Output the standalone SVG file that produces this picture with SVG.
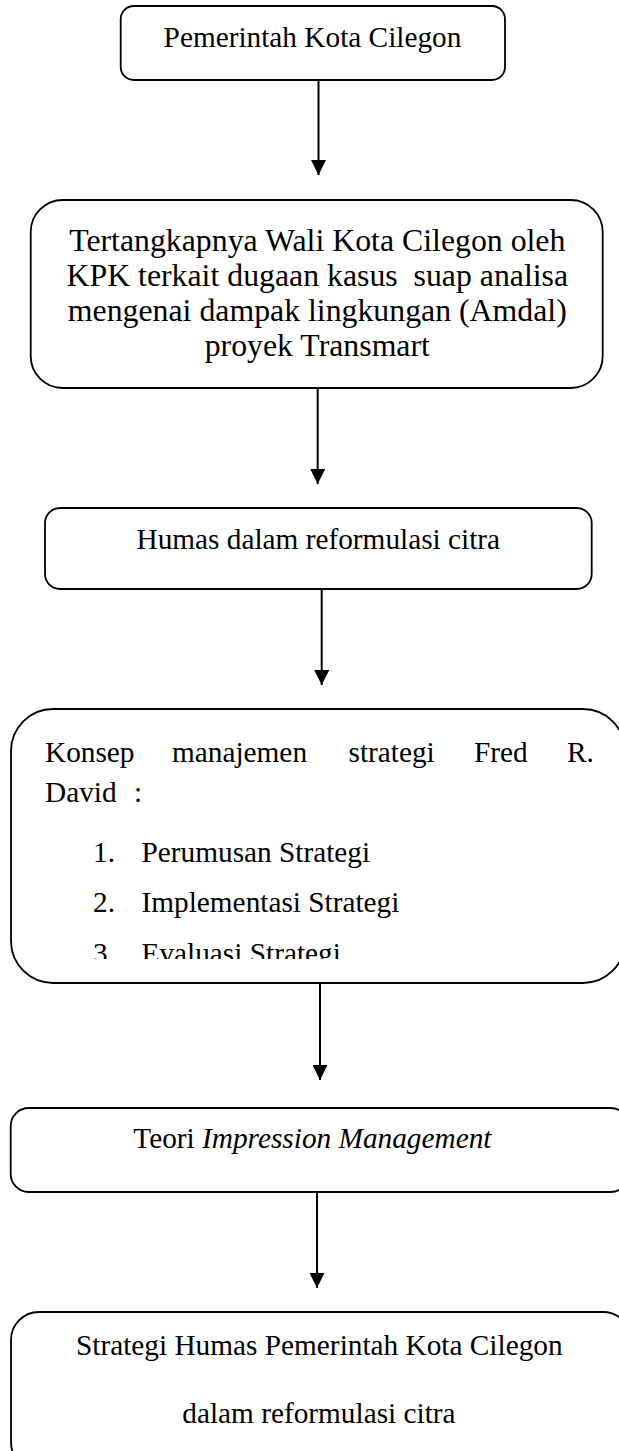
<svg xmlns="http://www.w3.org/2000/svg" width="619" height="1451" viewBox="0 0 619 1451">
<style>
.box{fill:#fff;stroke:#000;stroke-width:1.8}
.t{font-family:"Liberation Serif","Times New Roman",serif;font-size:29.3px;fill:#000}
.t2{font-family:"Liberation Serif","Times New Roman",serif;font-size:31.8px;fill:#000}
.c{text-anchor:middle}
.con{stroke:#000;stroke-width:2;fill:none;marker-end:url(#ah)}
</style>
<defs>
<marker id="ah" markerUnits="userSpaceOnUse" markerWidth="15" markerHeight="15" refX="15" refY="7.5" orient="auto">
<path d="M0,0 L15,7.5 L0,15 z" fill="#000"/>
</marker>
<clipPath id="clip4"><rect x="0" y="700" width="619" height="259"/></clipPath>
</defs>
<rect width="619" height="1451" fill="#fff"/>
<g id="connectors">
<line class="con" x1="318.5" y1="80" x2="318.5" y2="175"/>
<line class="con" x1="317.7" y1="388" x2="317.7" y2="484"/>
<line class="con" x1="321.7" y1="589" x2="321.7" y2="685"/>
<line class="con" x1="320" y1="983" x2="320" y2="1080"/>
<line class="con" x1="317" y1="1192" x2="317" y2="1288"/>
</g>
<g id="n1">
<rect class="box" x="120.7" y="6" width="384.3" height="74" rx="13"/>
<text class="t c" x="312.5" y="47">Pemerintah Kota Cilegon</text>
</g>
<g id="n2">
<rect class="box" x="30.7" y="200" width="572" height="188" rx="32"/>
<text class="t2 c" x="317.3" y="251">Tertangkapnya Wali Kota Cilegon oleh</text>
<text class="t2 c" x="317.3" y="286" xml:space="preserve">KPK terkait dugaan kasus  suap analisa</text>
<text class="t2 c" x="317.3" y="321">mengenai dampak lingkungan (Amdal)</text>
<text class="t2 c" x="317.3" y="356">proyek Transmart</text>
</g>
<g id="n3">
<rect class="box" x="45" y="508" width="546.7" height="81" rx="15"/>
<text class="t c" x="318.3" y="549">Humas dalam reformulasi citra</text>
</g>
<g id="n4">
<rect class="box" x="11" y="709" width="614" height="274" rx="42"/>
<g clip-path="url(#clip4)">
<text class="t" y="762"><tspan x="45">Konsep</tspan><tspan x="172">manajemen</tspan><tspan x="348.5">strategi</tspan><tspan x="474">Fred</tspan><tspan x="567">R.</tspan></text>
<text class="t" y="802"><tspan x="45">David</tspan><tspan x="134">:</tspan></text>
<text class="t" y="862"><tspan x="93">1.</tspan><tspan x="141.5">Perumusan Strategi</tspan></text>
<text class="t" y="912"><tspan x="93">2.</tspan><tspan x="141.5">Implementasi Strategi</tspan></text>
<text class="t" y="963"><tspan x="93">3.</tspan><tspan x="141.5">Evaluasi Strategi</tspan></text>
</g>
</g>
<g id="n5">
<rect class="box" x="10.7" y="1108" width="618" height="84" rx="18"/>
<text class="t c" x="312.4" y="1148">Teori <tspan font-style="italic">Impression Management</tspan></text>
</g>
<g id="n6">
<rect class="box" x="11" y="1312" width="620" height="158" rx="28"/>
<text class="t c" x="319.3" y="1355">Strategi Humas Pemerintah Kota Cilegon</text>
<text class="t c" x="318.9" y="1423">dalam reformulasi citra</text>
</g>
</svg>
